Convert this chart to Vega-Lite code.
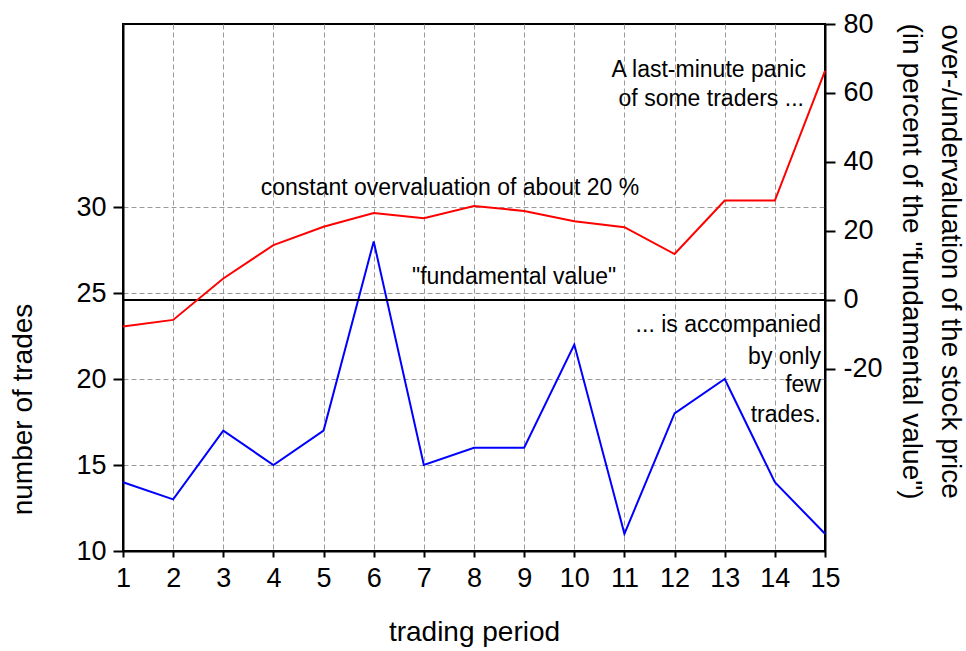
{
  "$schema": "https://vega.github.io/schema/vega-lite/v6.json",
  "width": 702,
  "height": 527,
  "autosize": "none",
  "padding": {"left": 123, "top": 24, "right": 141, "bottom": 100},
  "background": "white",
  "config": {
    "font": "Liberation Sans",
    "view": {"stroke": "black", "strokeWidth": 2},
    "axis": {
      "labelFont": "Liberation Sans",
      "titleFont": "Liberation Sans",
      "labelFontSize": 27,
      "titleFontSize": 28,
      "labelColor": "black",
      "titleColor": "black",
      "titleFontWeight": "normal",
      "domainColor": "black",
      "domainWidth": 2,
      "tickColor": "black",
      "tickWidth": 2,
      "gridColor": "#9a9a9a",
      "gridDash": [5, 3],
      "gridWidth": 1,
      "labelFlush": false,
      "labelOverlap": false
    }
  },
  "datasets": {
    "trades": [
      {"period": 1, "trades": 14}, {"period": 2, "trades": 13}, {"period": 3, "trades": 17},
      {"period": 4, "trades": 15}, {"period": 5, "trades": 17}, {"period": 6, "trades": 28},
      {"period": 7, "trades": 15}, {"period": 8, "trades": 16}, {"period": 9, "trades": 16},
      {"period": 10, "trades": 22}, {"period": 11, "trades": 11}, {"period": 12, "trades": 18},
      {"period": 13, "trades": 20}, {"period": 14, "trades": 14}, {"period": 15, "trades": 11}
    ],
    "valuation": [
      {"period": 1, "pct": -7.7}, {"period": 2, "pct": -5.8}, {"period": 3, "pct": 6.2},
      {"period": 4, "pct": 15.9}, {"period": 5, "pct": 21.2}, {"period": 6, "pct": 25.2},
      {"period": 7, "pct": 23.7}, {"period": 8, "pct": 27.2}, {"period": 9, "pct": 25.8},
      {"period": 10, "pct": 22.8}, {"period": 11, "pct": 21.1}, {"period": 12, "pct": 13.3},
      {"period": 13, "pct": 28.8}, {"period": 14, "pct": 28.8}, {"period": 15, "pct": 66.4}
    ],
    "notesRight": [
      {"period": 14.62, "pct": 66.7, "label": "A last-minute panic"},
      {"period": 14.58, "pct": 58.3, "label": "of some traders ..."},
      {"period": 14.92, "pct": -7.3, "label": "... is accompanied"},
      {"period": 14.92, "pct": -16.5, "label": "by only"},
      {"period": 14.92, "pct": -24.7, "label": "few"},
      {"period": 14.92, "pct": -33.4, "label": "trades."}
    ],
    "notesCenter": [
      {"period": 7.52, "pct": 32.4, "label": "constant overvaluation of about 20 %"},
      {"period": 8.8, "pct": 6.6, "label": "\"fundamental value\""}
    ],
    "zero": [{"pct": 0}]
  },
  "layer": [
    {
      "data": {"name": "trades"},
      "mark": {"type": "line", "color": "#0000ff", "strokeWidth": 2},
      "encoding": {
        "x": {
          "field": "period", "type": "quantitative",
          "scale": {"domain": [1, 15], "nice": false, "zero": false},
          "axis": {"values": [1,2,3,4,5,6,7,8,9,10,11,12,13,14,15], "format": "d", "title": "trading period",
                   "tickSize": 6, "labelPadding": 8, "titleY": 81, "titleBaseline": "middle"}
        },
        "y": {
          "field": "trades", "type": "quantitative",
          "scale": {"domain": [10, 40.64], "nice": false, "zero": false},
          "axis": {"orient": "left", "values": [10, 15, 20, 25, 30], "title": "number of trades",
                   "tickSize": 10, "labelPadding": 7, "titleAngle": 270, "titleX": -100, "titleY": 385,
                   "titleAlign": "center", "titleBaseline": "middle"}
        }
      }
    },
    {
      "layer": [
        {
          "data": {"name": "zero"},
          "mark": {"type": "rule", "color": "black", "strokeWidth": 2},
          "encoding": {"y": {"field": "pct", "type": "quantitative"}}
        },
        {
          "data": {"name": "valuation"},
          "mark": {"type": "line", "color": "#ff0000", "strokeWidth": 2},
          "encoding": {
            "x": {"field": "period", "type": "quantitative"},
            "y": {"field": "pct", "type": "quantitative"}
          }
        },
        {
          "data": {"name": "notesRight"},
          "mark": {"type": "text", "align": "right", "baseline": "middle", "font": "Liberation Sans", "fontSize": 23, "color": "black"},
          "encoding": {
            "x": {"field": "period", "type": "quantitative"},
            "y": {"field": "pct", "type": "quantitative"},
            "text": {"field": "label"}
          }
        },
        {
          "data": {"name": "notesCenter"},
          "mark": {"type": "text", "align": "center", "baseline": "middle", "font": "Liberation Sans", "fontSize": 23, "color": "black"},
          "encoding": {
            "x": {"field": "period", "type": "quantitative"},
            "y": {"field": "pct", "type": "quantitative"},
            "text": {"field": "label"}
          }
        }
      ],
      "encoding": {
        "y": {
          "type": "quantitative",
          "scale": {"domain": [-72.8, 80], "nice": false, "zero": false},
          "axis": {"orient": "right", "values": [-20, 0, 20, 40, 60, 80],
                   "labelExpr": "'' + datum.value",
                   "title": ["over-/undervaluation of the stock price", "(in percent of the \"fundamental value\")"],
                   "tickSize": 10, "labelPadding": 8, "titleAngle": 90, "titleX": 138, "titleY": 237,
                   "titleAlign": "center", "titleBaseline": "top", "titleLineHeight": 39}
        }
      }
    }
  ],
  "resolve": {"scale": {"y": "independent"}}
}
